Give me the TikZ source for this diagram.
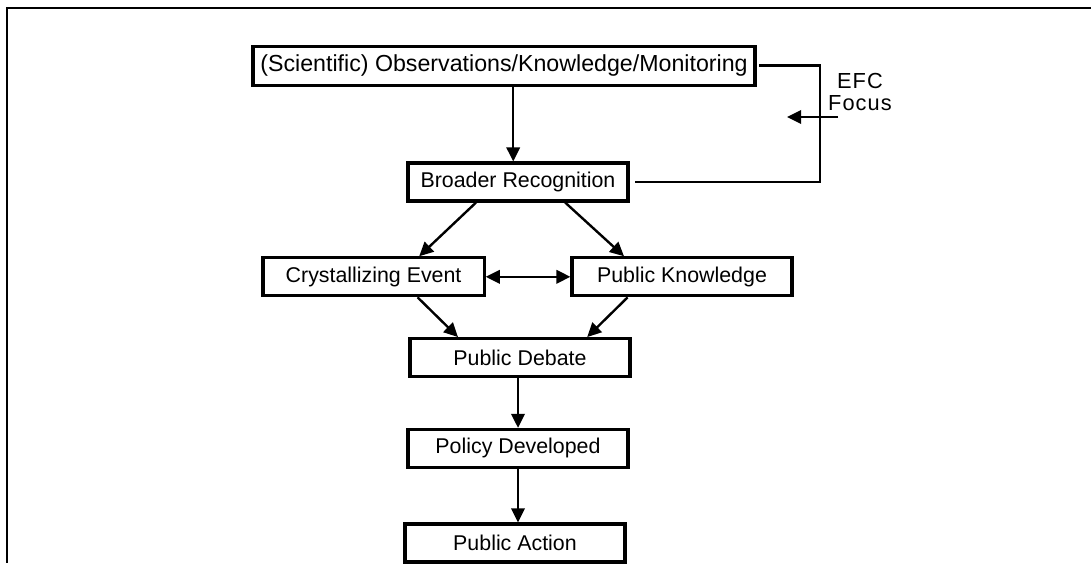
\documentclass[tikz,border=0pt]{standalone}
\usepackage{fontspec}
\setmainfont{Liberation Sans}
\newfontfamily\spacedfont[LetterSpace=5]{Liberation Sans}
\usetikzlibrary{positioning, arrows.meta, calc}

\begin{document}
\begin{tikzpicture}[
    stage/.style={draw, line width=2.2pt, rectangle, minimum width=5.5cm, minimum height=0.95cm, inner sep=2pt, align=center, fill=white, font=\fontsize{15.2}{18}\selectfont},
    arr/.style={line width=1.7pt, -{Triangle[length=10pt, width=9.5pt]}},
    link/.style={line width=1.7pt}
]
    \useasboundingbox (0,0) rectangle (27.275,-14.075);

    % ================= FRAME =================
    \draw[link] (27.275,-0.2) -- (0.175,-0.2) -- (0.175,-14.075);

    % ================= STAGES =================
    \node[stage, minimum width=12.55cm, minimum height=0.975cm, font=\fontsize{16.5}{19}\selectfont] (obs) at (12.6,-1.64) {(Scientific) Observations/Knowledge/Monitoring};
    \node[stage] (broad) at (12.95,-4.55) {Broader Recognition};
    \node[stage, minimum width=5.53cm] (cryst) at (9.34,-6.92) {Crystallizing Event};
    \node[stage] (pknow) at (17.05,-6.92) {Public Knowledge};
    \node[stage] (debate) at (13.0,-8.94) {Public Debate};
    \node[stage] (policy) at (12.95,-11.21) {Policy Developed};
    \node[stage] (action) at (12.875,-13.575) {Public Action};

    % ================= EFC FOCUS =================
    \node[align=center, font=\spacedfont\fontsize{15.5}{15.6}\selectfont] (efc) at (21.5,-2.3) {EFC\\Focus};
    \coordinate (efcx) at (20.5,-4.55);
    \coordinate (efcin) at (20.95,-2.925);
    \coordinate (efcout) at (19.675,-2.925);

    \draw[link] ([xshift=2pt]obs.east) -| (efcx) -- ([xshift=4pt]broad.east);
    \draw[arr] (efcin) -- (efcout);

    % ================= CONNECTIONS =================
    \draw[arr] ([xshift=-0.12cm]broad.north |- obs.south) -- ([xshift=-0.12cm]broad.north);
    \draw[arr] ([xshift=-1.05cm]broad.south) -- ([xshift=1.14cm]cryst.north);
    \draw[arr] ([xshift=1.18cm]broad.south) -- ([xshift=-1.45cm]pknow.north);
    \draw[arr, {Triangle[length=10pt, width=9.5pt]}-{Triangle[length=10pt, width=9.5pt]}] (cryst.east) -- (pknow.west);
    \draw[arr] ([xshift=1.1cm]cryst.south) -- ([xshift=-1.55cm]debate.north);
    \draw[arr] ([xshift=-1.36cm]pknow.south) -- ([xshift=1.68cm]debate.north);
    \draw[arr] (debate.south -| policy.north) -- (policy.north);
    \draw[arr] (policy.south) -- (policy.south |- action.north);

\end{tikzpicture}
\end{document}
